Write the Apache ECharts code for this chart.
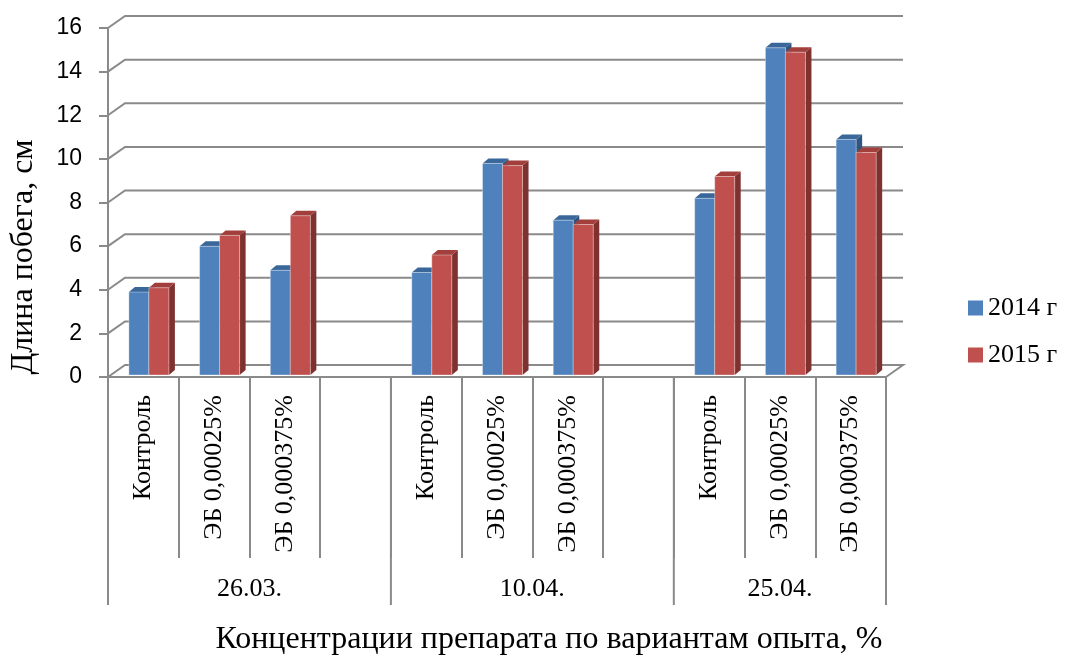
<!DOCTYPE html>
<html>
<head>
<meta charset="utf-8">
<script src="https://cdn.jsdelivr.net/npm/echarts@6/dist/echarts.min.js"></script>
<style>
html,body{margin:0;padding:0;background:#fff;}
#chart{width:1070px;height:656px;}
</style>
</head>
<body>
<div id="chart"></div>
<script>
// ---- data ----
const groupLabels = ['26.03.', '10.04.', '25.04.'];
const groupSizes = [4, 4, 3];
const categories = ['Контроль', 'ЭБ 0,00025%', 'ЭБ 0,000375%', '',
                    'Контроль', 'ЭБ 0,00025%', 'ЭБ 0,000375%', '',
                    'Контроль', 'ЭБ 0,00025%', 'ЭБ 0,000375%'];
const values2014 = [3.8, 5.9, 4.8, null, 4.7, 9.7, 7.1, null, 8.1, 15.0, 10.8];
const values2015 = [4.0, 6.4, 7.3, null, 5.5, 9.6, 6.9, null, 9.1, 14.8, 10.2];
const seriesNames = ['2014 г', '2015 г'];
const yTicks = [0, 2, 4, 6, 8, 10, 12, 14, 16];
const xAxisTitle = 'Концентрации препарата по вариантам опыта, %';
const yAxisTitle = 'Длина побега, см';

// ---- style ----
const GRID = '#8a8a8a';
const SERIF = '"Liberation Serif", "Times New Roman", serif';
const DX = 17, DY = -12;           // back wall offset
const BDX = 6, BDY = -5;           // bar depth
const colors = [
  {front: '#4F81BD', top: '#3A6799', side: '#2F5580'},
  {front: '#C0504D', top: '#A23F3C', side: '#7F3130'}
];
const barOffsets = [-0.205, 0.078]; // relative to slot width, left edge from slot center
const barWidthRel = 0.283;

function wallItem(params, api) {
  const cs = params.coordSys;
  const v = api.value(0);
  const y = api.coord([0, v])[1];
  const x0 = cs.x, x1 = cs.x + cs.width;
  const pts = [[x0, y], [x0 + DX, y + DY], [x1 + DX, y + DY]];
  if (v === 0) pts.push([x1, y]);
  return {
    type: 'polyline',
    shape: {points: pts},
    style: {stroke: GRID, lineWidth: 2, fill: null},
    silent: true
  };
}

function makeBarRender(k) {
  return function (params, api) {
    const i = api.value(0), v = api.value(1);
    if (v == null || isNaN(v)) return;
    const top = api.coord([i, v]);
    const base = api.coord([i, 0]);
    const slot = api.size([1, 0])[0];
    const w = slot * barWidthRel;
    const x0 = top[0] + slot * barOffsets[k];
    const x1 = x0 + w;
    const yT = top[1] - 2, yB = base[1] - 2;
    const c = colors[k];
    return {
      type: 'group',
      children: [
        {type: 'polygon', shape: {points: [[x1, yB], [x1 + BDX, yB + BDY], [x1 + BDX, yT + BDY], [x1, yT]]},
         style: {fill: c.side}},
        {type: 'polygon', shape: {points: [[x0, yT], [x1, yT], [x1 + BDX, yT + BDY], [x0 + BDX, yT + BDY]]},
         style: {fill: c.top}},
        {type: 'rect', shape: {x: x0, y: yT, width: w, height: yB - yT},
         style: {fill: c.front, stroke: 'rgba(255,255,255,0.35)', lineWidth: 1}}
      ]
    };
  };
}

// group structure data: [startIndex, count]
const groupData = [];
let s = 0;
for (let g = 0; g < groupLabels.length; g++) {
  groupData.push([s, groupSizes[g]]);
  s += groupSizes[g];
}

function groupItem(params, api) {
  const start = api.value(0), cnt = api.value(1);
  const label = groupLabels[params.dataIndex];
  const slot = api.size([1, 0])[0];
  const pS = api.coord([start, 0]);
  const pE = api.coord([start + cnt - 1, 0]);
  const xL = pS[0] - slot / 2, xR = pE[0] + slot / 2;
  const y0 = pS[1];
  const children = [
    {type: 'line', shape: {x1: xL, y1: y0, x2: xL, y2: y0 + 228}, style: {stroke: GRID, lineWidth: 2}},
    {type: 'text', style: {text: label, x: (xL + xR) / 2, y: y0 + 212, align: 'center', verticalAlign: 'middle',
      font: '26px ' + SERIF, fill: '#000'}}
  ];
  if (params.dataIndex === groupLabels.length - 1) {
    children.push({type: 'line', shape: {x1: xR, y1: y0, x2: xR, y2: y0 + 228}, style: {stroke: GRID, lineWidth: 2}});
  }
  return {type: 'group', children: children};
}

const chart = echarts.init(document.getElementById('chart'));
chart.setOption({
  animation: false,
  backgroundColor: '#fff',
  grid: {left: 108, right: 184, top: 28, bottom: 279},
  legend: {
    orient: 'vertical', left: 963, top: 288,
    itemWidth: 15, itemHeight: 15, itemGap: 17,
    icon: 'rect',
    data: seriesNames,
    textStyle: {fontFamily: SERIF, fontSize: 26, color: '#000', lineHeight: 30}
  },
  xAxis: {
    type: 'category',
    data: categories,
    axisLine: {show: true, lineStyle: {color: GRID, width: 2}},
    axisTick: {show: true, interval: 0, length: 181, lineStyle: {color: GRID, width: 2}},
    axisLabel: {interval: 0, rotate: 90, margin: 18, fontFamily: SERIF, fontSize: 26, color: '#000'},
    splitLine: {show: false}
  },
  yAxis: {
    type: 'value', min: 0, max: 16, interval: 2,
    axisLine: {show: true, lineStyle: {color: GRID, width: 2}},
    axisTick: {show: true, length: 9, lineStyle: {color: GRID, width: 2}},
    axisLabel: {margin: 26, fontFamily: '"Liberation Sans", Arial, sans-serif', fontSize: 23, color: '#000'},
    splitLine: {show: false}
  },
  graphic: [
    {type: 'text', x: 24, y: 257, rotation: Math.PI / 2,
     style: {text: yAxisTitle, font: '32px ' + SERIF, fill: '#000', align: 'center', verticalAlign: 'middle'}},
    {type: 'text', x: 549, y: 640,
     style: {text: xAxisTitle, font: '32px ' + SERIF, fill: '#000', align: 'center', verticalAlign: 'middle'}}
  ],
  series: [
    {type: 'custom', name: 'wall', renderItem: wallItem, data: yTicks.map(v => [v]),
     encode: {y: 0}, z: 1, silent: true, clip: false},
    {type: 'custom', name: 'groups', renderItem: groupItem, data: groupData,
     encode: {x: 0}, z: 1, silent: true, clip: false},
    {type: 'custom', name: seriesNames[0], renderItem: makeBarRender(0),
     itemStyle: {color: colors[0].front}, z: 3, clip: false,
     data: values2014.map((v, i) => [i, v]), encode: {x: 0, y: 1}},
    {type: 'custom', name: seriesNames[1], renderItem: makeBarRender(1),
     itemStyle: {color: colors[1].front}, z: 4, clip: false,
     data: values2015.map((v, i) => [i, v]), encode: {x: 0, y: 1}}
  ]
});
</script>
</body>
</html>
